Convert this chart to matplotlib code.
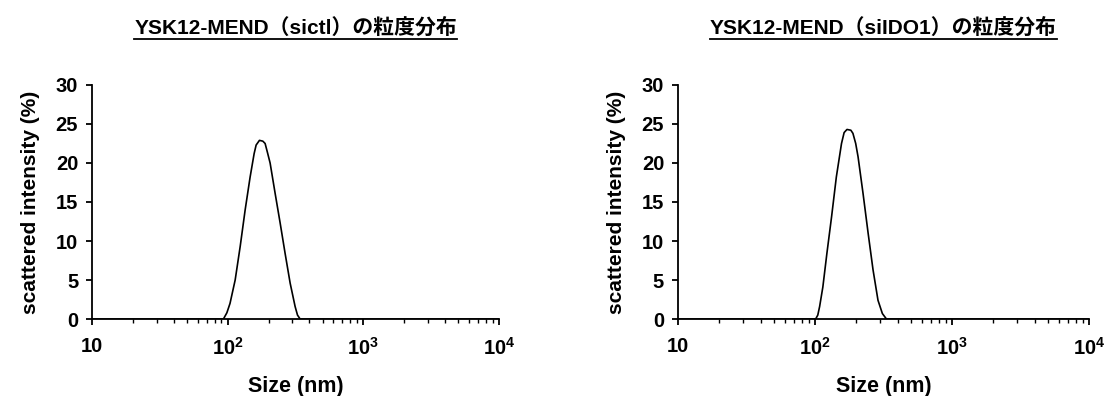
import matplotlib
matplotlib.use('Agg')
import matplotlib.pyplot as plt
from matplotlib.lines import Line2D

plt.rcParams['font.family'] = ['Liberation Sans', 'Noto Sans CJK JP']
plt.rcParams['font.weight'] = 'bold'
plt.rcParams['mathtext.fontset'] = 'custom'
plt.rcParams['mathtext.bf'] = 'Liberation Sans:bold'
plt.rcParams['mathtext.rm'] = 'Liberation Sans:bold'

# particle size distributions (nm vs % scattered intensity)
size_ctl = [10, 93, 98.6, 104, 113.5, 123.6, 134.5, 146.3, 156.6, 162, 171.4,
            181.5, 188.7, 196, 205.4, 223.7, 243.6, 265, 288.6, 314, 327, 342,
            10000]
intensity_ctl = [0, 0, 0.8, 2.0, 5.0, 9.3, 14.0, 18.2, 21.2, 22.3, 22.9,
                 22.8, 22.5, 21.4, 20.0, 16.1, 12.3, 8.4, 4.6, 1.6, 0.5, 0,
                 0]

size_ido = [10, 101, 104.7, 108, 114, 122, 132, 143, 156, 163, 171,
            182.5, 189, 198, 206, 224, 244, 265, 288, 310, 332, 10000]
intensity_ido = [0, 0, 0.5, 1.6, 4.1, 8.4, 13.1, 18.2, 22.5, 23.9, 24.3,
                 24.2, 23.8, 22.5, 20.8, 16.1, 11.0, 6.3, 2.4, 0.7, 0, 0]

titles = ['YSK12-MEND（sictl）の粒度分布', 'YSK12-MEND（siIDO1）の粒度分布']
yticks = [0, 5, 10, 15, 20, 25, 30]
xticks = [10, 100, 1000, 10000]
xticklabels = ['10', r'$\mathbf{10^2}$', r'$\mathbf{10^3}$', r'$\mathbf{10^4}$']

fig = plt.figure(figsize=(11.05, 3.96), dpi=100)
ax1 = fig.add_axes([0.0833, 0.1944, 0.3683, 0.591])
ax2 = fig.add_axes([0.6136, 0.1944, 0.372, 0.591])

for ax, xs, ys in [(ax1, size_ctl, intensity_ctl), (ax2, size_ido, intensity_ido)]:
    ax.plot(xs, ys, color='black', lw=1.2, solid_joinstyle='round')
    ax.set_xscale('log')
    ax.set_xlim(10, 10000)
    ax.set_ylim(0, 30)
    ax.set_yticks(yticks)
    ax.set_xticks(xticks)
    ax.set_xticklabels(xticklabels)
    ax.spines['top'].set_visible(False)
    ax.spines['right'].set_visible(False)
    ax.spines['left'].set_linewidth(1.3)
    ax.spines['bottom'].set_linewidth(1.3)
    ax.tick_params(axis='both', which='major', direction='out', length=4,
                   width=1.3, labelsize=14.5)
    ax.tick_params(axis='x', which='minor', direction='out', length=3, width=1.0)
    ax.tick_params(axis='x', which='major', pad=9)
    ax.tick_params(axis='y', which='major', pad=6)
    ax.set_xlabel('Size (nm)', fontsize=15.5, fontweight='bold', labelpad=12)
    ax.set_ylabel('scattered intensity (%)', fontsize=15, fontweight='bold', labelpad=11)

# underlined titles above each panel
title_texts = []
for ax, t in zip([ax1, ax2], titles):
    pos = ax.get_position()
    cx = (pos.x0 + pos.x1) / 2
    title_texts.append(fig.text(cx, 0.93, t, ha='center', va='center',
                                fontsize=15, fontweight='bold'))

fig.canvas.draw()
inv = fig.transFigure.inverted()
for txt in title_texts:
    bb = txt.get_window_extent().transformed(inv)
    y = bb.y0 - 0.004
    fig.add_artist(Line2D([bb.x0, bb.x1], [y, y], transform=fig.transFigure,
                          color='black', lw=1.3))

fig.savefig('out.png', dpi=100)
